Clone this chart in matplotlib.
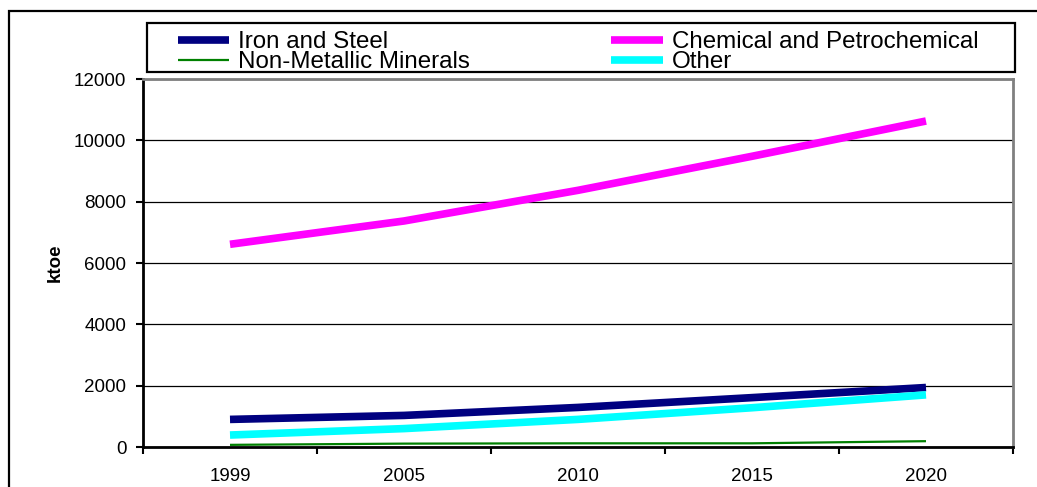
import matplotlib.pyplot as plt
from matplotlib.patches import Rectangle
import numpy

plt.rcParams['font.family'] = ['Liberation Sans', 'DejaVu Sans']

years = ['1999', '2005', '2010', '2015', '2020']
iron_steel = [900, 1030, 1290, 1610, 1940]
chemical = [6610, 7370, 8370, 9480, 10630]
non_metallic = [70, 110, 120, 120, 190]
other = [390, 600, 900, 1280, 1700]

W, H = 1037, 487
fig = plt.figure(figsize=(W / 100, H / 100), dpi=100)
ax = fig.add_axes([143 / W, 1 - 447 / H, 870 / W, 368 / H])

x = numpy.arange(len(years))
l_iron, = ax.plot(x, iron_steel, color='#000080', lw=5.5, solid_capstyle='butt', label='Iron and Steel')
l_chem, = ax.plot(x, chemical, color='#FF00FF', lw=5.5, solid_capstyle='butt', label='Chemical and Petrochemical')
l_nonmet, = ax.plot(x, non_metallic, color='#008000', lw=1.6, solid_capstyle='butt', label='Non-Metallic Minerals')
l_other, = ax.plot(x, other, color='#00FFFF', lw=5.5, solid_capstyle='butt', label='Other')

ax.set_xlim(-0.5, len(years) - 0.5)
ax.set_ylim(0, 12000)
ax.set_yticks(numpy.arange(0, 12001, 2000))
ax.tick_params(axis='y', direction='out', length=5, width=1.5, pad=7, labelsize=13.5)
ax.yaxis.grid(True, color='black', lw=0.9)
ax.set_axisbelow(True)

# category labels sit between the tick marks
ax.set_xticks(numpy.arange(-0.5, len(years), 1.0))
ax.set_xticklabels([])
ax.set_xticks(x, minor=True)
ax.set_xticklabels(years, minor=True)
ax.tick_params(axis='x', which='major', direction='out', length=5, width=1.5)
ax.tick_params(axis='x', which='minor', length=0, pad=15, labelsize=13.5)

for side in ['left', 'bottom']:
    ax.spines[side].set_linewidth(2)
    ax.spines[side].set_color('black')
for side in ['top', 'right']:
    ax.spines[side].set_linewidth(2)
    ax.spines[side].set_color('#808080')

ax.set_ylabel('ktoe', fontsize=13.5, fontweight='bold', labelpad=7)

# legend entries without their own frame; box drawn separately below
leg = ax.legend(handles=[l_iron, l_nonmet, l_chem, l_other], ncol=2,
                loc='upper left', bbox_to_anchor=(177.5 / W, 1 - 31 / H),
                bbox_transform=fig.transFigure, fontsize=17.4,
                handlelength=2.15, handletextpad=0.36, columnspacing=5.85,
                labelspacing=-0.07, borderpad=0, borderaxespad=0,
                frameon=False)

fig.add_artist(Rectangle((147 / W, 1 - 72 / H), 868 / W, 49 / H,
                         transform=fig.transFigure, fill=False,
                         edgecolor='black', lw=1.6))

# chart area border
fig.add_artist(Rectangle((9 / W, -0.1), 1.1, 1.1 - 11 / H,
                         transform=fig.transFigure, fill=False,
                         edgecolor='black', lw=1.6))

plt.savefig('out.png', dpi=100)
